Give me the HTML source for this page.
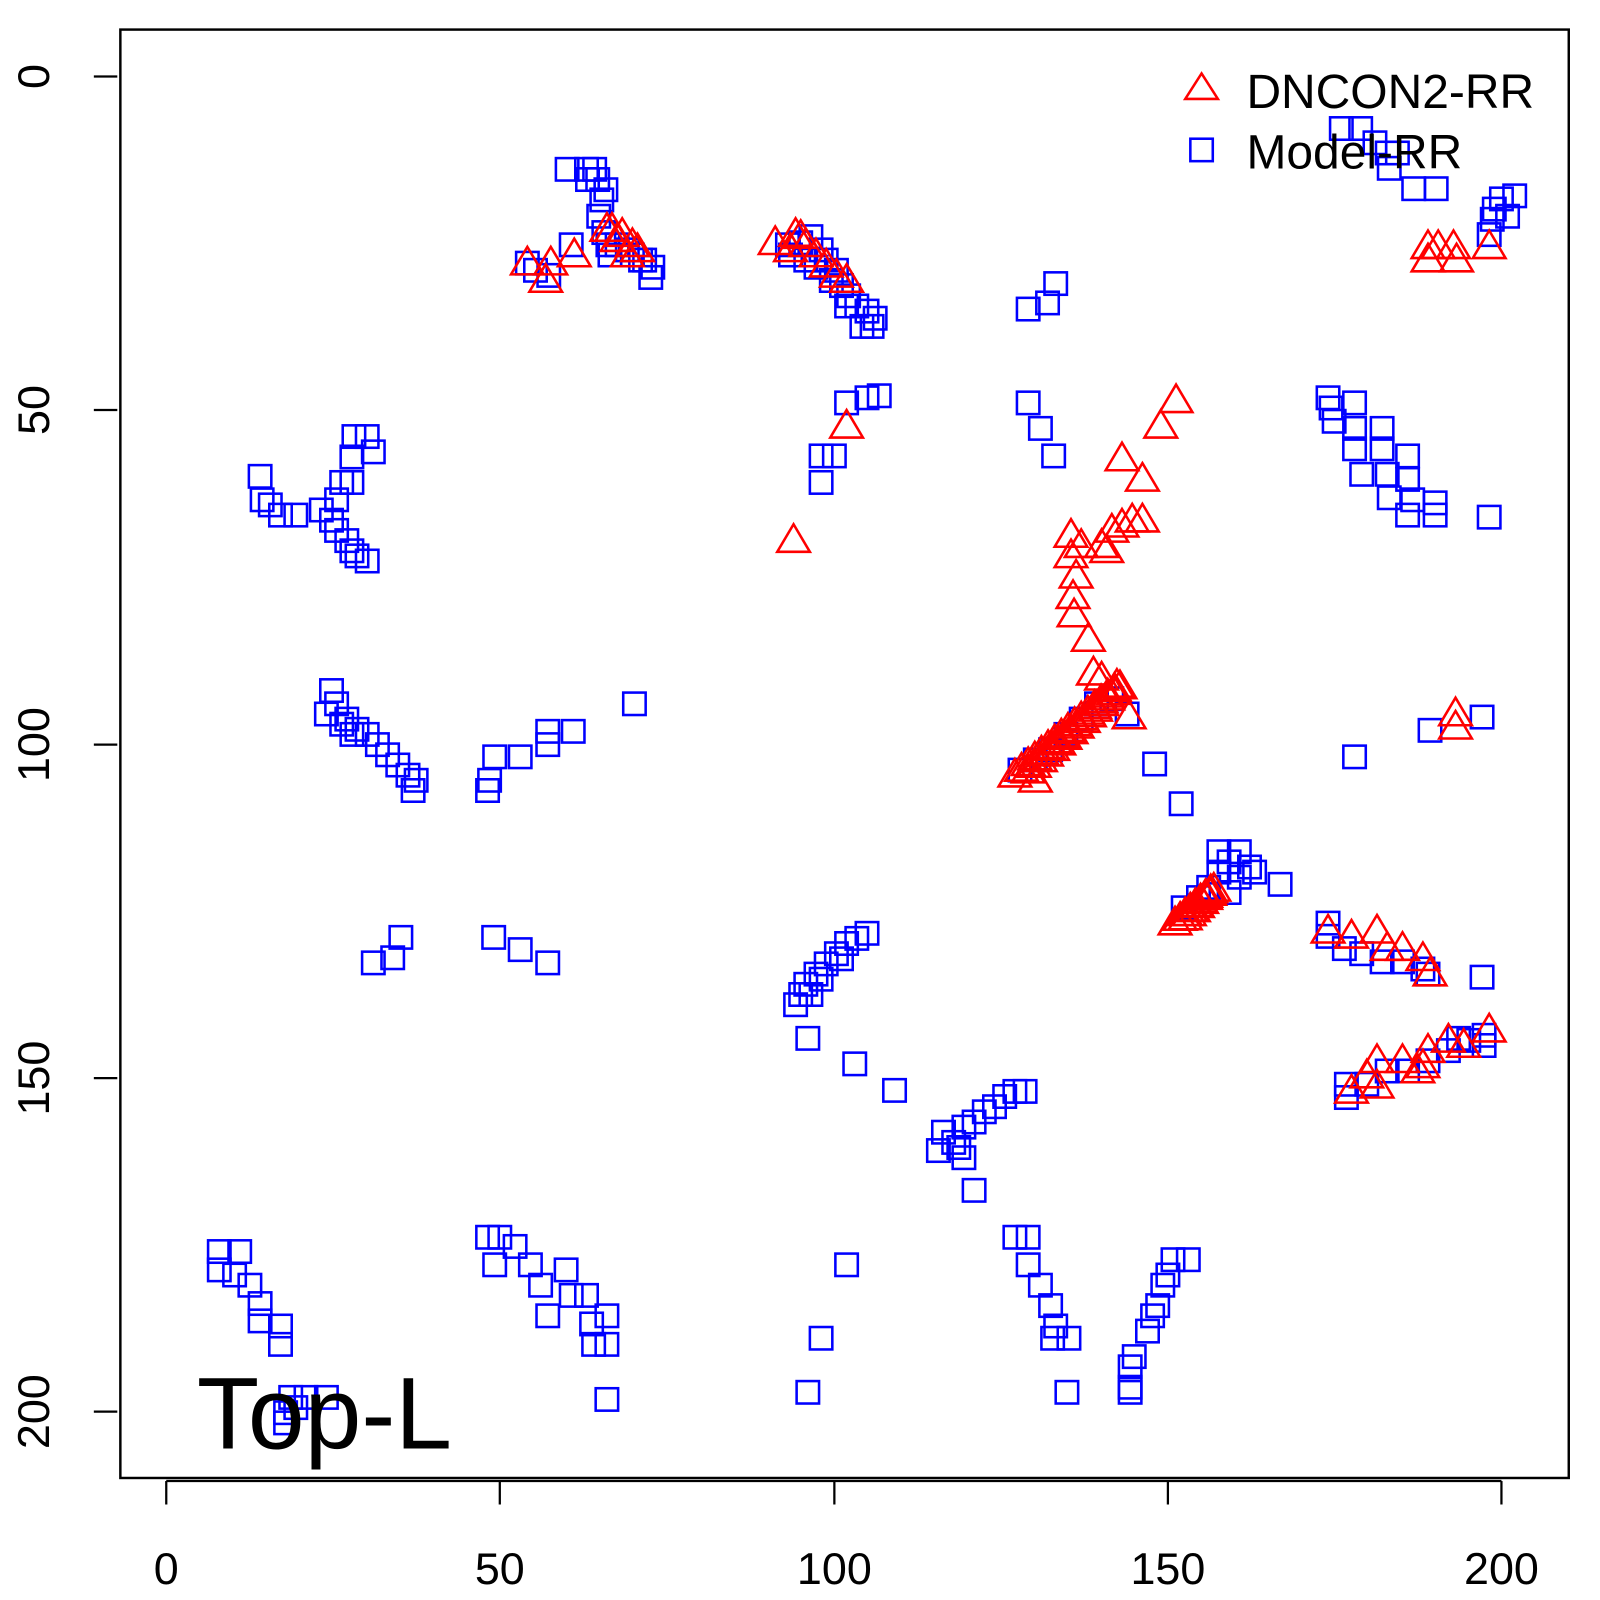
<!DOCTYPE html>
<html><head><style>html,body{margin:0;padding:0;background:#fff;}svg{display:block}</style></head>
<body>
<svg id="s" width="1600" height="1600" xmlns="http://www.w3.org/2000/svg">
<g id="g" transform="scale(1.02)" font-family="Liberation Sans, sans-serif">
<rect x="118" y="29" width="1420" height="1420" fill="none" stroke="#000" stroke-width="2.4"/>
<g stroke="#000" stroke-width="2.2">
<line x1="163" y1="1452" x2="163" y2="1475"/><line x1="490" y1="1452" x2="490" y2="1475"/><line x1="818" y1="1452" x2="818" y2="1475"/><line x1="1145" y1="1452" x2="1145" y2="1475"/><line x1="1472" y1="1452" x2="1472" y2="1475"/>
<line x1="163" y1="1452" x2="1472" y2="1452"/>
<line x1="92" y1="75" x2="115" y2="75"/><line x1="92" y1="402" x2="115" y2="402"/><line x1="92" y1="730" x2="115" y2="730"/><line x1="92" y1="1057" x2="115" y2="1057"/><line x1="92" y1="1384" x2="115" y2="1384"/>
</g>
<g font-size="44" text-anchor="middle" fill="#000">
<text x="163" y="1553">0</text><text x="490" y="1553">50</text><text x="818" y="1553">100</text><text x="1145" y="1553">150</text><text x="1472" y="1553">200</text>
<text transform="translate(48,75) rotate(-90)">0</text>
<text transform="translate(48,402) rotate(-90)">50</text>
<text transform="translate(48,730) rotate(-90)">100</text>
<text transform="translate(48,1057) rotate(-90)">150</text>
<text transform="translate(48,1384) rotate(-90)">200</text>
</g>
<g id="pts"></g>
<text x="193" y="1420" font-size="100" fill="#000">Top-L</text>
<g font-size="47" fill="#000"><text x="1222" y="106">DNCON2-RR</text><text x="1222" y="165">Model-RR</text></g>
<polygon points="1178,72 1194,97 1162,97" fill="none" stroke="red" stroke-width="2.5"/>
<rect x="1167" y="136" width="22" height="22" fill="none" stroke="blue" stroke-width="2.5"/>
</g>
</svg>
<script>
var B=[[556,166],[575,166],[583,166],[576,176],[586,176],[594,186],[590,196],[587,212],[592,228],[596,240],[605,240],[615,245],[620,250],[632,255],[640,262],[638,272],[628,255],[517,258],[525,265],[538,270],[560,240],[598,250],
[772,240],[785,238],[795,232],[805,245],[810,255],[820,265],[825,280],[832,290],[840,300],[850,305],[858,312],[845,320],[855,320],[775,250],[790,255],[800,262],[815,275],[830,300],
[1035,278],[1027,297],[1008,303],[1008,395],[1020,420],[1033,447],[830,395],[850,390],[862,388],[818,447],[805,473],[805,447],
[1315,126],[1334,126],[1348,140],[1360,150],[1370,150],[1362,165],[1386,185],[1408,185],[1460,230],[1465,205],[1472,195],[1485,192],[1478,212],[1463,215],
[1302,390],[1305,400],[1308,413],[1328,395],[1328,420],[1328,440],[1335,465],[1355,420],[1355,440],[1360,465],[1362,488],[1380,447],[1380,470],[1385,490],[1380,505],[1407,493],[1407,505],[1460,507],
[255,467],[257,490],[265,495],[275,505],[290,505],[315,500],[325,510],[330,520],[340,530],[350,545],[360,550],[345,540],[330,490],[347,428],[360,428],[345,448],[366,443],[345,473],[335,473],
[325,677],[330,690],[320,700],[340,705],[350,715],[360,720],[370,730],[380,740],[390,750],[400,760],[408,765],[405,775],[335,710],[345,720],
[478,775],[480,765],[485,742],[510,742],[537,717],[537,730],[562,717],[622,690],[1132,749],[1158,788],[1402,716],[1328,742],[1453,703],
[1195,835],[1205,845],[1215,835],[1225,850],[1230,855],[1255,867],[1205,875],[1215,860],[1195,855],
[1302,905],[1302,918],[1318,930],[1335,935],[1355,943],[1375,943],[1395,950],[1400,955],[1453,958],
[1320,1063],[1320,1076],[1340,1063],[1360,1050],[1380,1050],[1400,1040],[1420,1030],[1440,1020],[1455,1015],[1455,1025],[1430,1018],
[785,975],[790,965],[800,955],[810,945],[820,935],[830,925],[840,920],[850,915],[780,985],[795,975],[805,960],[825,940],
[792,1018],[838,1043],[877,1069],
[925,1110],[935,1120],[945,1105],[955,1100],[965,1090],[975,1085],[985,1075],[995,1070],[1005,1070],[945,1135],[920,1128],[940,1125],[955,1167],
[366,944],[385,939],[393,919],[484,919],[510,931],[537,944],
[215,1227],[235,1227],[230,1250],[245,1260],[255,1278],[275,1300],[275,1318],[215,1245],[255,1295],
[478,1213],[490,1213],[505,1222],[520,1240],[530,1260],[537,1290],[555,1245],[560,1270],[575,1270],[580,1298],[595,1290],[595,1318],[582,1318],[485,1240],
[830,1240],[805,1312],[792,1365],[595,1372],
[995,1213],[1008,1213],[1008,1240],[1020,1260],[1030,1280],[1035,1300],[1048,1312],[1032,1312],[1046,1365],
[1108,1360],[1108,1340],[1112,1330],[1125,1305],[1130,1290],[1135,1280],[1140,1260],[1150,1235],[1165,1235],[1145,1250],[1108,1365],
[280,1395],[285,1370],[300,1370],[320,1370],[280,1385],[290,1380],
[1000,755],[1015,745],[1030,735],[1045,720],[1060,705],[1075,690],[1090,685],[1105,700],[1160,890],[1175,880],[1185,870]];
var R=[[517,258],[540,258],[563,250],[535,275],[600,225],[610,230],[620,240],[605,235],[595,225],[615,250],[625,245],[760,238],[780,230],[790,240],[800,250],[810,260],[820,270],[830,275],[775,245],[785,232],[830,418],[778,530],[1153,393],[1138,418],[1100,450],[1120,470],[1050,525],[1050,545],[1055,565],[1052,585],[1053,603],[1067,627],[1072,660],[1060,535],[1080,535],[1090,520],[1100,515],[1110,510],[1120,510],[1085,540],[1400,242],[1410,242],[1400,255],[1425,242],[1428,255],[1460,242],[1427,700],[1427,713],[1107,703],
[1302,913],[1325,918],[1350,913],[1360,930],[1375,930],[1395,940],[1402,955],[1325,1070],[1350,1040],[1350,1065],[1375,1040],[1395,1045],[1400,1030],[1420,1020],[1435,1025],[1460,1010],[1340,1055],[1390,1050],[1015,765],[1080,665],[1095,672]];
for(var i=0;i<16;i++){R.push([995+i*6.5,760-i*5.6]);R.push([1008+i*6,756-i*5.5]);}
for(var i=0;i<8;i++){R.push([1152+i*5,905-i*4.5]);R.push([1162+i*4,900-i*4]);}
var h='';
B.forEach(function(p){h+='<rect x="'+(p[0]-11)+'" y="'+(p[1]-11)+'" width="22" height="22" fill="none" stroke="blue" stroke-width="2.5"/>';});
R.forEach(function(p){var x=p[0],y=p[1];h+='<polygon points="'+x+','+(y-16)+' '+(x+16)+','+(y+11)+' '+(x-16)+','+(y+11)+'" fill="none" stroke="red" stroke-width="2.5"/>';});
document.getElementById('pts').innerHTML=h;
</script>
</body></html>
